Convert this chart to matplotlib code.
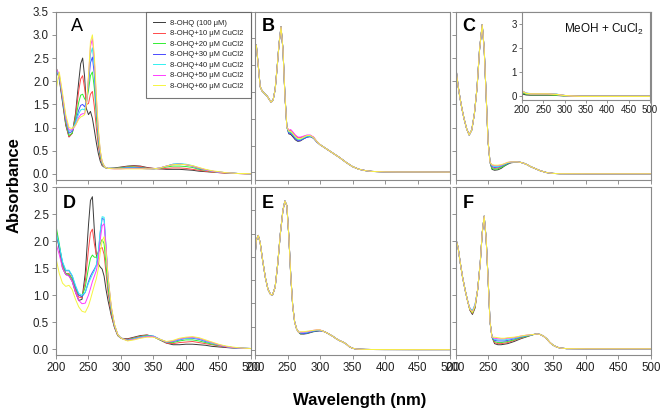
import numpy as np
import matplotlib
matplotlib.use("Agg")
import matplotlib.pyplot as plt
import matplotlib.ticker as plticker

plt.rcParams['font.family'] = ['Liberation Sans', 'DejaVu Sans']
plt.rcParams['mathtext.fontset'] = 'custom'
plt.rcParams['mathtext.rm'] = 'Liberation Sans'

LABELS = ['8-OHQ (100 μM)', '8-OHQ+10 μM CuCl2', '8-OHQ+20 μM CuCl2', '8-OHQ+30 μM CuCl2',
          '8-OHQ+40 μM CuCl2', '8-OHQ+50 μM CuCl2', '8-OHQ+60 μM CuCl2']
COLORS = ['#3a3a3a', '#ff4a4a', '#33ee33', '#4a4aff', '#33f0f0', '#ff3cff', '#f5f540']

# ---- panel A ----
WL_A = [200, 205, 210, 215, 220, 225, 230, 235, 238, 241, 244, 247, 250, 253, 256, 259, 262, 265,
        268, 271, 275, 280, 290, 300, 310, 320, 330, 340, 350, 360, 370, 380, 390, 400, 410, 420,
        430, 440, 450, 460, 470, 480, 490, 500]
A_0 = [2.30, 2.05, 1.55, 1.05, 0.80, 0.88, 1.30, 2.00, 2.38, 2.50, 2.10, 1.40, 1.28, 1.35, 1.20, 0.95, 0.68, 0.45,
       0.28, 0.18, 0.14, 0.12, 0.13, 0.15, 0.17, 0.18, 0.17, 0.14, 0.12, 0.11, 0.10, 0.10, 0.10, 0.09, 0.08, 0.06,
       0.05, 0.04, 0.03, 0.02, 0.01, 0.01, 0.005, 0.005]
A_10 = [2.30, 2.08, 1.60, 1.08, 0.80, 0.88, 1.25, 1.80, 2.05, 2.12, 1.85, 1.50, 1.52, 1.72, 1.78, 1.45, 1.00, 0.62,
        0.35, 0.20, 0.14, 0.12, 0.12, 0.14, 0.16, 0.17, 0.16, 0.13, 0.12, 0.11, 0.12, 0.13, 0.13, 0.12, 0.10, 0.08,
        0.06, 0.04, 0.03, 0.02, 0.015, 0.01, 0.005, 0.005]
A_20 = [2.30, 2.10, 1.62, 1.12, 0.83, 0.88, 1.18, 1.55, 1.70, 1.72, 1.62, 1.58, 1.80, 2.12, 2.20, 1.85, 1.25, 0.75,
        0.40, 0.22, 0.14, 0.12, 0.12, 0.13, 0.15, 0.15, 0.14, 0.12, 0.11, 0.12, 0.15, 0.17, 0.17, 0.16, 0.14, 0.10,
        0.08, 0.05, 0.04, 0.03, 0.02, 0.01, 0.01, 0.005]
A_30 = [2.25, 2.10, 1.65, 1.18, 0.88, 0.92, 1.12, 1.38, 1.48, 1.50, 1.45, 1.55, 1.95, 2.40, 2.52, 2.15, 1.45, 0.85,
        0.45, 0.24, 0.15, 0.12, 0.12, 0.12, 0.14, 0.14, 0.13, 0.12, 0.11, 0.13, 0.17, 0.21, 0.22, 0.20, 0.17, 0.12,
        0.09, 0.06, 0.04, 0.03, 0.02, 0.01, 0.01, 0.005]
A_40 = [2.25, 2.12, 1.68, 1.20, 0.92, 0.95, 1.10, 1.30, 1.38, 1.40, 1.38, 1.55, 2.05, 2.58, 2.72, 2.30, 1.55, 0.90,
        0.48, 0.25, 0.15, 0.12, 0.12, 0.12, 0.13, 0.13, 0.12, 0.11, 0.11, 0.13, 0.17, 0.21, 0.22, 0.21, 0.18, 0.13,
        0.09, 0.06, 0.04, 0.03, 0.02, 0.01, 0.01, 0.005]
A_50 = [2.28, 2.15, 1.70, 1.22, 0.95, 0.95, 1.05, 1.22, 1.28, 1.30, 1.30, 1.52, 2.10, 2.75, 2.92, 2.45, 1.65, 0.95,
        0.50, 0.26, 0.15, 0.12, 0.11, 0.11, 0.12, 0.12, 0.12, 0.11, 0.11, 0.13, 0.17, 0.20, 0.21, 0.20, 0.17, 0.13,
        0.09, 0.06, 0.04, 0.03, 0.02, 0.01, 0.01, 0.005]
A_60 = [1.80, 2.20, 1.75, 1.28, 1.00, 0.98, 1.05, 1.18, 1.23, 1.25, 1.28, 1.50, 2.12, 2.85, 3.00, 2.55, 1.72, 1.00,
        0.52, 0.27, 0.15, 0.12, 0.11, 0.11, 0.11, 0.11, 0.11, 0.11, 0.11, 0.13, 0.17, 0.20, 0.21, 0.20, 0.18, 0.14,
        0.10, 0.07, 0.05, 0.03, 0.02, 0.01, 0.01, 0.005]

# ---- panel D ----
WL_D = [200, 205, 210, 215, 220, 225, 230, 235, 240, 245, 250, 253, 256, 259, 262, 265, 268, 271, 274, 277,
        280, 285, 290, 295, 300, 310, 320, 330, 340, 350, 360, 370, 380, 390, 400, 410, 420, 430, 440, 450,
        460, 470, 480, 490, 500]
D_0 = [2.20, 1.85, 1.50, 1.38, 1.36, 1.25, 1.05, 0.90, 0.92, 1.40, 2.30, 2.75, 2.82, 2.20, 1.75, 1.58, 1.52, 1.48, 1.35, 1.10,
       0.90, 0.62, 0.40, 0.25, 0.20, 0.19, 0.22, 0.25, 0.26, 0.23, 0.17, 0.11, 0.08, 0.08, 0.09, 0.09, 0.08, 0.07, 0.05, 0.04,
       0.03, 0.02, 0.015, 0.01, 0.01]
D_10 = [2.22, 1.90, 1.55, 1.40, 1.40, 1.30, 1.10, 0.96, 0.95, 1.25, 1.85, 2.15, 2.22, 1.95, 1.75, 1.78, 1.86, 1.88, 1.75, 1.40,
        1.05, 0.65, 0.40, 0.25, 0.20, 0.18, 0.21, 0.24, 0.26, 0.23, 0.17, 0.11, 0.10, 0.12, 0.13, 0.14, 0.12, 0.10, 0.08, 0.06,
        0.04, 0.03, 0.02, 0.01, 0.01]
D_20 = [2.28, 1.95, 1.57, 1.40, 1.38, 1.30, 1.12, 1.00, 0.97, 1.15, 1.50, 1.68, 1.74, 1.70, 1.70, 1.80, 1.95, 2.03, 1.95, 1.55,
        1.15, 0.70, 0.42, 0.26, 0.20, 0.17, 0.20, 0.23, 0.25, 0.23, 0.17, 0.12, 0.12, 0.15, 0.17, 0.17, 0.15, 0.12, 0.09, 0.07,
        0.05, 0.03, 0.02, 0.015, 0.01]
D_30 = [2.15, 1.90, 1.60, 1.45, 1.45, 1.35, 1.15, 1.00, 0.97, 1.05, 1.25, 1.35, 1.42, 1.48, 1.55, 1.75, 2.15, 2.42, 2.40, 1.85,
        1.30, 0.75, 0.44, 0.27, 0.20, 0.16, 0.19, 0.22, 0.24, 0.24, 0.18, 0.13, 0.14, 0.17, 0.20, 0.20, 0.18, 0.14, 0.11, 0.08,
        0.05, 0.03, 0.02, 0.015, 0.01]
D_40 = [2.17, 1.92, 1.62, 1.46, 1.46, 1.36, 1.18, 1.03, 1.00, 1.05, 1.22, 1.30, 1.38, 1.45, 1.55, 1.78, 2.18, 2.45, 2.44, 1.90,
        1.32, 0.76, 0.44, 0.27, 0.20, 0.16, 0.19, 0.22, 0.24, 0.24, 0.18, 0.13, 0.15, 0.18, 0.20, 0.21, 0.19, 0.15, 0.11, 0.08,
        0.05, 0.03, 0.02, 0.015, 0.01]
D_50 = [1.95, 1.75, 1.50, 1.38, 1.35, 1.25, 1.05, 0.90, 0.84, 0.85, 1.00, 1.12, 1.25, 1.35, 1.45, 1.65, 2.02, 2.28, 2.32, 1.90,
        1.35, 0.78, 0.45, 0.27, 0.20, 0.16, 0.18, 0.21, 0.23, 0.23, 0.18, 0.13, 0.15, 0.19, 0.21, 0.22, 0.20, 0.16, 0.12, 0.08,
        0.05, 0.03, 0.02, 0.015, 0.01]
D_60 = [1.68, 1.40, 1.22, 1.16, 1.18, 1.10, 0.92, 0.78, 0.70, 0.68, 0.80, 0.92, 1.05, 1.18, 1.30, 1.48, 1.78, 2.00, 2.08, 1.80,
        1.35, 0.80, 0.46, 0.27, 0.20, 0.15, 0.17, 0.20, 0.22, 0.22, 0.18, 0.14, 0.16, 0.20, 0.22, 0.23, 0.21, 0.17, 0.13, 0.09,
        0.06, 0.04, 0.025, 0.015, 0.01]

# ---- panel B (curves coincide except 252-295 nm) ----
WL_B_HEAD = [200, 202, 205, 208, 211, 215, 219, 222, 225, 228, 231, 234, 237, 240, 243, 246, 249]
B_HEAD = [2.25, 2.38, 2.00, 1.60, 1.52, 1.47, 1.42, 1.36, 1.31, 1.36, 1.55, 1.95, 2.40, 2.72, 2.30, 1.45, 0.85]
WL_B_MID = [252, 255, 258, 262, 266, 270, 275, 280, 285, 290, 295]
B_MID = [[0.72, 0.71, 0.67, 0.61, 0.58, 0.59, 0.63, 0.66, 0.67, 0.64, 0.57],
         [0.78, 0.79, 0.75, 0.69, 0.65, 0.65, 0.67, 0.69, 0.69, 0.66, 0.58],
         [0.75, 0.75, 0.71, 0.65, 0.61, 0.61, 0.64, 0.67, 0.68, 0.65, 0.58],
         [0.73, 0.73, 0.69, 0.63, 0.59, 0.60, 0.63, 0.66, 0.67, 0.64, 0.57],
         [0.76, 0.76, 0.72, 0.66, 0.62, 0.62, 0.65, 0.68, 0.68, 0.65, 0.58],
         [0.79, 0.80, 0.76, 0.70, 0.66, 0.66, 0.68, 0.70, 0.70, 0.66, 0.58],
         [0.77, 0.77, 0.73, 0.67, 0.63, 0.63, 0.66, 0.69, 0.69, 0.65, 0.58]]
WL_B_TAIL = [300, 305, 310, 320, 330, 340, 350, 360, 370, 380, 400, 420, 450, 500]
B_TAIL = [0.52, 0.48, 0.44, 0.36, 0.28, 0.19, 0.11, 0.06, 0.035, 0.02, 0.012, 0.01, 0.01, 0.008]

# ---- panel C ----
WL_C_HEAD = [200, 201, 204, 207, 210, 213, 217, 221, 225, 229, 233, 237, 241, 244, 247, 250, 253]
C_HEAD = [2.15, 2.25, 1.90, 1.63, 1.40, 1.20, 0.98, 0.84, 0.95, 1.30, 1.85, 2.70, 3.22, 2.70, 1.70, 0.70, 0.25]
WL_C_MID = [256, 260, 265, 270, 275, 280, 285, 290]
C_MID = [[0.10, 0.08, 0.09, 0.12, 0.17, 0.21, 0.24, 0.25],
         [0.14, 0.12, 0.13, 0.15, 0.19, 0.23, 0.25, 0.26],
         [0.12, 0.10, 0.11, 0.14, 0.18, 0.22, 0.25, 0.25],
         [0.16, 0.14, 0.15, 0.17, 0.20, 0.23, 0.25, 0.26],
         [0.18, 0.16, 0.16, 0.18, 0.21, 0.24, 0.26, 0.26],
         [0.19, 0.18, 0.18, 0.19, 0.22, 0.25, 0.26, 0.26],
         [0.20, 0.19, 0.19, 0.20, 0.22, 0.25, 0.26, 0.26]]
WL_C_TAIL = [295, 300, 305, 310, 315, 320, 330, 340, 350, 360, 380, 400, 450, 500]
C_TAIL = [0.26, 0.25, 0.23, 0.20, 0.16, 0.13, 0.07, 0.03, 0.012, 0.006, 0.005, 0.004, 0.004, 0.004]

# inset of C (MeOH + CuCl2)
WL_IN = [200, 210, 220, 240, 260, 280, 300, 320, 340, 400, 500]
INSET = [[0.10, 0.06, 0.05, 0.05, 0.05, 0.04, 0.02, 0.01, 0.0, 0.0, 0.0],
         [0.18, 0.10, 0.08, 0.08, 0.08, 0.06, 0.03, 0.01, 0.0, 0.0, 0.0],
         [0.15, 0.09, 0.07, 0.07, 0.07, 0.05, 0.02, 0.01, 0.0, 0.0, 0.0],
         [0.20, 0.12, 0.10, 0.10, 0.10, 0.08, 0.03, 0.01, 0.0, 0.0, 0.0],
         [0.22, 0.13, 0.11, 0.11, 0.11, 0.09, 0.03, 0.01, 0.0, 0.0, 0.0],
         [0.22, 0.12, 0.10, 0.10, 0.10, 0.08, 0.03, 0.01, 0.0, 0.0, 0.0],
         [0.21, 0.12, 0.10, 0.10, 0.10, 0.08, 0.03, 0.01, 0.0, 0.0, 0.0]]

# ---- panel E ----
WL_E_HEAD = [200, 202, 205, 208, 212, 216, 220, 224, 227, 231, 235, 239, 243, 246, 249, 252, 255, 258, 261, 264, 267]
E_HEAD = [2.00, 2.35, 2.46, 2.30, 1.90, 1.55, 1.30, 1.19, 1.18, 1.35, 1.85, 2.50, 3.00, 3.20, 3.10, 2.45, 1.60, 0.95,
          0.60, 0.45, 0.38]
WL_E_MID = [270, 275, 280, 285, 290, 295, 300]
E_MID = [[0.34, 0.34, 0.35, 0.37, 0.39, 0.40, 0.41],
         [0.36, 0.36, 0.37, 0.39, 0.41, 0.42, 0.42],
         [0.35, 0.35, 0.36, 0.38, 0.40, 0.41, 0.42],
         [0.36, 0.35, 0.36, 0.38, 0.40, 0.41, 0.41],
         [0.37, 0.37, 0.38, 0.40, 0.41, 0.42, 0.42],
         [0.38, 0.38, 0.39, 0.40, 0.42, 0.43, 0.43],
         [0.39, 0.39, 0.40, 0.41, 0.42, 0.43, 0.43]]
WL_E_TAIL = [305, 310, 315, 320, 325, 330, 335, 340, 345, 350, 355, 360, 370, 380, 400, 450, 500]
E_TAIL = [0.40, 0.37, 0.33, 0.29, 0.24, 0.20, 0.17, 0.13, 0.07, 0.035, 0.02, 0.015, 0.01, 0.008, 0.007, 0.006, 0.006]

# ---- panel F ----
WL_F_HEAD = [200, 201, 204, 207, 211, 215, 219]
F_HEAD = [1.75, 2.02, 1.88, 1.62, 1.32, 1.08, 0.87]
WL_F_MIN = [222, 226, 230]
F_MIN = [[0.72, 0.64, 0.76], [0.73, 0.66, 0.78], [0.74, 0.67, 0.79], [0.76, 0.70, 0.82],
         [0.76, 0.71, 0.83], [0.75, 0.69, 0.81], [0.74, 0.68, 0.80]]
WL_F_PEAK = [234, 238, 241, 244, 247, 250, 253, 256]
F_PEAK = [1.10, 1.60, 2.15, 2.46, 2.05, 1.30, 0.50, 0.22]
WL_F_MID = [260, 265, 270, 275, 280, 290, 300, 310]
F_MID = [[0.10, 0.08, 0.08, 0.09, 0.10, 0.14, 0.19, 0.23],
         [0.12, 0.10, 0.10, 0.11, 0.12, 0.16, 0.20, 0.24],
         [0.14, 0.12, 0.12, 0.13, 0.14, 0.17, 0.21, 0.24],
         [0.16, 0.15, 0.15, 0.15, 0.16, 0.19, 0.22, 0.25],
         [0.18, 0.17, 0.17, 0.17, 0.18, 0.20, 0.23, 0.25],
         [0.20, 0.19, 0.19, 0.19, 0.20, 0.21, 0.24, 0.26],
         [0.22, 0.21, 0.20, 0.20, 0.21, 0.22, 0.24, 0.26]]
WL_F_TAIL = [320, 325, 330, 335, 340, 345, 350, 355, 360, 370, 400, 450, 500]
F_TAIL = [0.27, 0.28, 0.27, 0.24, 0.19, 0.12, 0.07, 0.04, 0.02, 0.008, 0.005, 0.005, 0.005]

W, H = 667, 418


def px_rect(l, t, r, b):
    return [l / W, 1 - b / H, (r - l) / W, (b - t) / H]


def style_axes(ax, ytop, ybot, ymaxtick, xlabels, ylabels):
    ax.set_xlim(200, 500)
    ax.set_ylim(ybot, ytop)
    ax.xaxis.set_major_locator(plticker.MultipleLocator(50))
    ax.set_yticks(np.arange(0, ymaxtick + 0.01, 0.5))
    ax.yaxis.set_major_formatter(plticker.FormatStrFormatter('%.1f'))
    ax.tick_params(direction='out', length=3, width=0.6, color='#808080', labelsize=8.3,
                   labelcolor='#222222', pad=2, labelbottom=xlabels, labelleft=ylabels)
    for s in ax.spines.values():
        s.set_color('#8a8a8a')
        s.set_linewidth(0.8)


fig = plt.figure(figsize=(6.67, 4.18), dpi=100)

axA = fig.add_axes(px_rect(56, 11.7, 251, 180))
axB = fig.add_axes(px_rect(255, 11.7, 450, 180))
axC = fig.add_axes(px_rect(455.5, 11.7, 651, 180))
axD = fig.add_axes(px_rect(56, 187, 251, 355))
axE = fig.add_axes(px_rect(255, 187, 450, 355))
axF = fig.add_axes(px_rect(455.5, 187, 651, 355))

LW = 0.7
for k, ys in enumerate([A_0, A_10, A_20, A_30, A_40, A_50, A_60]):
    axA.plot(WL_A, ys, color=COLORS[k], lw=LW, label=LABELS[k])
for k, ys in enumerate([D_0, D_10, D_20, D_30, D_40, D_50, D_60]):
    axD.plot(WL_D, ys, color=COLORS[k], lw=LW)
for k in range(7):
    axB.plot(WL_B_HEAD + WL_B_MID + WL_B_TAIL, B_HEAD + B_MID[k] + B_TAIL, color=COLORS[k], lw=LW)
    axC.plot(WL_C_HEAD + WL_C_MID + WL_C_TAIL, C_HEAD + C_MID[k] + C_TAIL, color=COLORS[k], lw=LW)
    axE.plot(WL_E_HEAD + WL_E_MID + WL_E_TAIL, E_HEAD + E_MID[k] + E_TAIL, color=COLORS[k], lw=LW)
    axF.plot(WL_F_HEAD + WL_F_MIN + WL_F_PEAK + WL_F_MID + WL_F_TAIL,
             F_HEAD + F_MIN[k] + F_PEAK + F_MID[k] + F_TAIL, color=COLORS[k], lw=LW)

style_axes(axA, 3.5, -0.13, 3.5, False, True)
style_axes(axB, 3.0, -0.14, 3.0, False, False)
style_axes(axC, 3.5, -0.13, 3.5, False, False)
style_axes(axD, 3.0, -0.11, 3.0, True, True)
style_axes(axE, 3.5, -0.11, 3.5, True, False)
style_axes(axF, 3.0, -0.11, 3.0, True, False)

# panel letters
axA.text(0.075, 0.96, 'A', transform=axA.transAxes, fontsize=13, va='top', ha='left')
for ax, lab in [(axB, 'B'), (axC, 'C')]:
    ax.text(0.035, 0.96, lab, transform=ax.transAxes, fontsize=13, fontweight='bold', va='top', ha='left')
for ax, lab in [(axD, 'D'), (axE, 'E'), (axF, 'F')]:
    ax.text(0.035, 0.95, lab, transform=ax.transAxes, fontsize=13, fontweight='bold', va='top', ha='left')

leg = axA.legend(loc='upper right', bbox_to_anchor=(1.0, 1.0), borderaxespad=0, fontsize=5.5,
                 frameon=True, fancybox=False, handlelength=1.6, handletextpad=0.6,
                 labelspacing=0.42, borderpad=1.0)
leg.get_frame().set_edgecolor('#555555')
leg.get_frame().set_linewidth(0.8)
for t in leg.get_texts():
    t.set_color('#222222')

# inset in C
axI = fig.add_axes(px_rect(522, 11.7, 650, 99.7))
for k in range(7):
    axI.plot(WL_IN, INSET[k], color=COLORS[k], lw=0.9)
axI.set_xlim(200, 500)
axI.set_ylim(-0.14, 3.5)
axI.set_xticks(np.arange(200, 501, 50))
axI.set_yticks([0, 1, 2, 3])
axI.tick_params(direction='out', length=2, width=0.6, color='#808080', labelsize=7,
                labelcolor='#222222', pad=1.5)
for s in axI.spines.values():
    s.set_color('#8a8a8a')
    s.set_linewidth(0.8)
axI.text(0.95, 0.80, 'MeOH + CuCl$_2$', transform=axI.transAxes, fontsize=8.5,
         ha='right', va='center', color='#111111')

fig.text(14 / W, 1 - 185 / H, 'Absorbance', rotation=90, ha='center', va='center',
         fontsize=12, fontweight='bold')
fig.text(360 / W, 1 - 400 / H, 'Wavelength (nm)', ha='center', va='center',
         fontsize=12, fontweight='bold')

fig.savefig('out.png', dpi=100)
